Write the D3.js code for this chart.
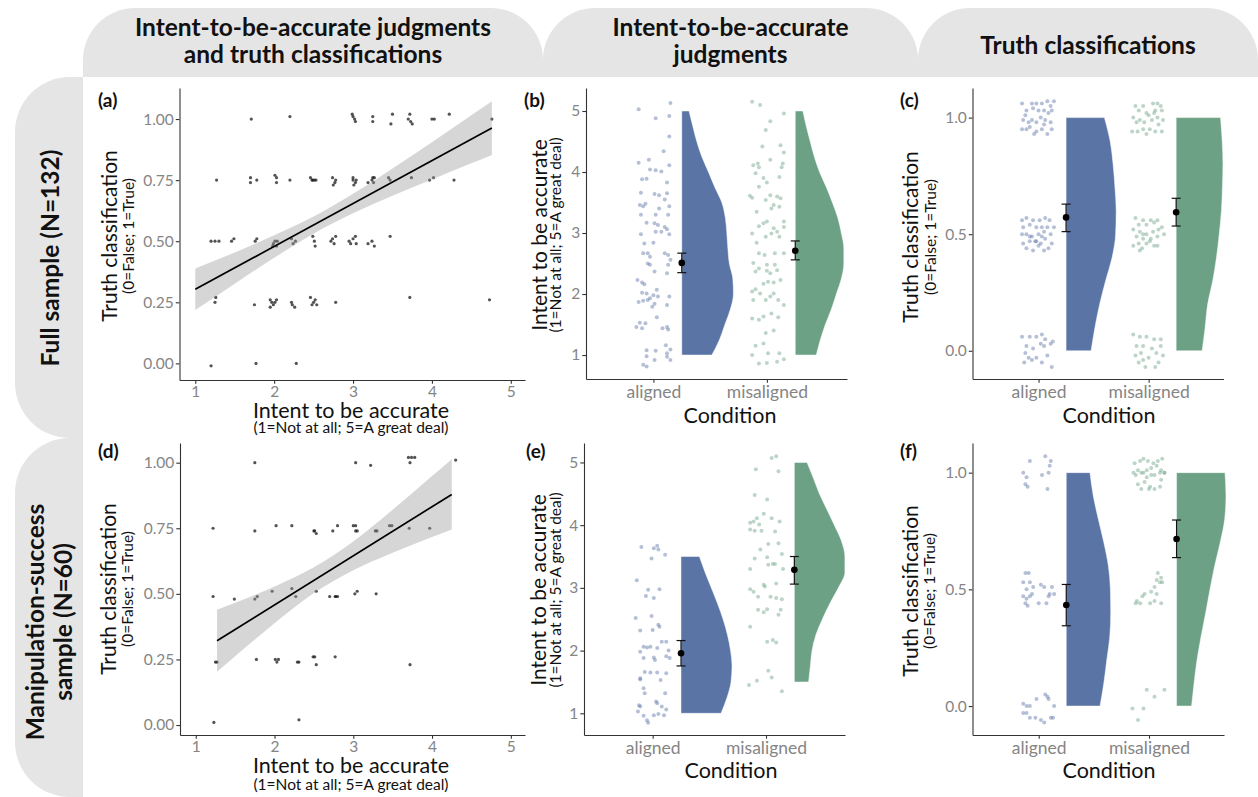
<!DOCTYPE html>
<html>
<head>
<meta charset="utf-8">
<script src="https://cdn.jsdelivr.net/npm/d3@7"></script>
<style>
  body { margin: 0; background: #fff; }
  svg { display: block; }
</style>
</head>
<body>
<svg id="fig" width="1258" height="797"></svg>
<script>
// ---------------- data ----------------
const conditions = ["aligned", "misaligned"];
const colTitles = [
  ["Intent-to-be-accurate judgments", "and truth classifications"],
  ["Intent-to-be-accurate", "judgments"],
  ["Truth classifications"]
];
const rowTitles = [
  ["Full sample (N=132)"],
  ["Manipulation-success", "sample (N=60)"]
];
const panelLabels = ["(a)", "(b)", "(c)", "(d)", "(e)", "(f)"];

const intentTicks = [1, 2, 3, 4, 5];
const truthTicks4 = [0, 0.25, 0.5, 0.75, 1];
const truthTicks2 = [0, 0.5, 1];

// (a) full sample: intent (x) vs truth classification (y), jittered
const aPoints = [
  [1.71,1.00],[2.20,1.01],[2.99,1.02],[3.00,1.01],[3.02,1.00],[3.03,0.99],[3.25,1.01],[3.25,0.99],
  [3.50,1.02],[3.48,0.98],[3.72,1.02],[3.70,1.00],[3.73,0.99],[3.75,0.98],[4.00,1.00],[4.03,1.00],
  [4.22,1.02],[4.76,1.00],
  [1.27,0.75],[1.70,0.76],[1.70,0.74],[1.78,0.75],[2.01,0.77],[2.03,0.76],[2.03,0.74],[2.20,0.75],
  [2.46,0.76],[2.48,0.75],[2.49,0.75],[2.51,0.75],[2.53,0.75],[2.74,0.76],[2.77,0.74],[2.78,0.75],
  [2.75,0.73],[3.00,0.76],[3.00,0.75],[3.03,0.74],[3.01,0.73],[3.04,0.75],[3.19,0.74],[3.24,0.75],
  [3.25,0.76],[3.27,0.76],[3.26,0.74],[3.45,0.76],[3.47,0.75],[3.74,0.76],[3.97,0.75],[4.02,0.76],
  [4.28,0.75],
  [1.20,0.50],[1.25,0.50],[1.30,0.50],[1.46,0.50],[1.49,0.51],[1.76,0.50],[1.78,0.51],[1.99,0.49],
  [2.01,0.50],[2.03,0.48],[2.04,0.50],[1.98,0.48],[2.22,0.51],[2.24,0.49],[2.27,0.50],[2.49,0.52],
  [2.51,0.50],[2.52,0.48],[2.72,0.50],[2.74,0.51],[2.76,0.49],[2.78,0.52],[2.95,0.50],[2.97,0.49],
  [3.00,0.51],[3.03,0.52],[3.04,0.49],[3.19,0.49],[3.24,0.50],[3.27,0.48],[3.47,0.52],
  [1.26,0.27],[1.25,0.25],[1.75,0.24],[1.95,0.26],[1.97,0.25],[1.99,0.24],[2.01,0.25],[2.03,0.26],
  [1.95,0.23],[2.22,0.25],[2.23,0.24],[2.26,0.23],[2.46,0.27],[2.48,0.24],[2.50,0.25],[2.52,0.26],
  [2.54,0.24],[2.78,0.25],[3.72,0.27],[4.73,0.26],
  [1.20,-0.01],[1.77,0.00],[2.28,0.00]
];
const aFitX = [1, 4.76];
const aFitY = [0.303, 0.963];
const aBandX  = [1, 1.5, 2, 2.5, 3, 3.5, 4, 4.5, 4.76];
const aBandLo = [0.218, 0.326, 0.432, 0.531, 0.614, 0.686, 0.753, 0.819, 0.853];
const aBandHi = [0.388, 0.454, 0.524, 0.601, 0.694, 0.798, 0.905, 1.015, 1.073];

// (d) manipulation-success sample
const dPoints = [
  [1.75,1.00],[3.03,1.00],[3.22,0.99],[3.70,1.02],[3.72,1.00],[3.74,1.02],[3.78,1.02],[4.30,1.01],
  [1.22,0.75],[1.75,0.74],[2.02,0.76],[2.22,0.76],[2.50,0.74],[2.53,0.73],[2.51,0.74],[2.74,0.74],
  [2.80,0.76],[3.00,0.76],[3.03,0.76],[3.03,0.74],[3.05,0.74],[3.28,0.74],[3.30,0.74],[3.46,0.76],
  [3.49,0.76],[3.71,0.75],[3.97,0.75],
  [1.22,0.49],[1.49,0.48],[1.75,0.48],[1.78,0.49],[1.97,0.51],[2.22,0.52],[2.27,0.49],[2.53,0.51],
  [2.70,0.49],[2.77,0.49],[2.78,0.49],[2.80,0.49],[3.02,0.50],[3.05,0.51],[3.29,0.50],
  [1.25,0.24],[1.27,0.24],[1.77,0.25],[2.01,0.25],[2.03,0.24],[2.05,0.25],[2.29,0.24],[2.31,0.24],
  [2.49,0.26],[2.51,0.26],[2.53,0.23],[2.77,0.26],[3.72,0.23],
  [1.23,0.01],[2.31,0.02]
];
const dFitX = [1.27, 4.25];
const dFitY = [0.321, 0.879];
const dBandX  = [1.27, 1.5, 2, 2.5, 3, 3.5, 4, 4.25];
const dBandLo = [0.203, 0.262, 0.388, 0.503, 0.590, 0.657, 0.717, 0.745];
const dBandHi = [0.439, 0.466, 0.528, 0.601, 0.700, 0.821, 0.949, 1.013];

// (b) intent by condition, full sample: [jitter offset, intent]
const bAligned = [
  [-0.13,5.03],[0.15,5.13],[0.02,4.88],[0.14,4.92],[0.14,4.58],[0.09,4.34],[-0.13,4.15],[-0.04,4.20],
  [0.14,4.11],[-0.03,4.04],[0.02,4.03],[0.07,4.01],[-0.10,3.88],[-0.06,3.89],[0.12,3.83],[-0.11,3.66],
  [0.01,3.64],[0.05,3.62],[0.12,3.65],[-0.12,3.46],[-0.09,3.44],[-0.07,3.48],[0.10,3.55],[0.14,3.44],
  [0.05,3.40],[0.02,3.30],[0.13,3.30],[-0.11,3.30],[-0.06,3.17],[0.01,3.16],[0.04,3.13],[0.10,3.10],
  [0.12,3.06],[0.02,3.02],[0.07,3.02],[-0.11,2.98],[0.14,2.98],[0.00,2.84],[-0.08,2.83],[-0.09,2.67],
  [-0.05,2.67],[-0.03,2.61],[0.10,2.67],[0.13,2.64],[0.15,2.56],[-0.05,2.50],[-0.03,2.48],[0.13,2.48],
  [0.01,2.37],[0.12,2.34],[-0.14,2.23],[-0.10,2.19],[-0.08,2.16],[-0.10,2.02],[-0.06,2.01],[0.03,2.07],
  [0.00,1.98],[-0.03,1.93],[-0.05,1.90],[-0.09,1.89],[-0.13,1.87],[0.04,1.96],[0.14,1.96],[0.01,1.84],
  [-0.01,1.79],[0.12,1.82],[0.03,1.62],[-0.12,1.53],[-0.07,1.52],[-0.10,1.44],[-0.15,1.46],[0.08,1.44],
  [0.12,1.46],[0.13,1.42],[-0.06,1.08],[0.02,1.07],[0.11,1.16],[0.15,1.09],[-0.06,0.98],[0.12,0.97],
  [0.15,0.92],[-0.09,0.84],[-0.06,0.81],[0.01,0.92],[0.12,1.03]
];
const bMisaligned = [
  [-0.13,5.15],[-0.06,5.10],[0.15,4.96],[0.03,4.83],[-0.01,4.69],[0.12,4.44],[-0.04,4.42],[0.15,4.32],
  [-0.08,4.14],[-0.12,4.11],[-0.07,4.08],[0.03,4.20],[0.14,4.14],[0.13,4.08],[-0.10,3.98],[-0.03,3.90],
  [0.00,3.83],[0.11,3.92],[-0.07,3.76],[-0.15,3.61],[-0.13,3.58],[0.03,3.62],[0.09,3.60],[0.12,3.57],
  [-0.01,3.54],[0.06,3.46],[0.11,3.43],[-0.09,3.35],[0.04,3.40],[0.15,3.19],[0.15,3.10],[-0.07,3.11],
  [-0.03,3.16],[0.00,3.19],[0.06,3.08],[0.09,3.02],[0.04,2.99],[-0.13,2.99],[-0.01,2.94],[0.11,2.94],
  [-0.09,2.84],[-0.07,2.67],[-0.02,2.64],[0.07,2.67],[0.15,2.67],[-0.12,2.51],[0.00,2.48],[0.07,2.48],
  [0.00,2.38],[0.09,2.39],[-0.07,2.42],[-0.10,2.37],[0.03,2.34],[0.12,2.23],[0.06,2.19],[-0.03,2.17],
  [0.01,2.20],[-0.10,2.08],[-0.13,2.04],[-0.06,2.01],[0.06,2.01],[0.03,1.96],[-0.01,1.90],[0.10,1.90],
  [-0.12,1.90],[0.15,1.82],[-0.13,1.60],[-0.07,1.58],[-0.03,1.63],[0.04,1.68],[0.10,1.62],[0.06,1.40],
  [-0.01,1.36],[-0.10,1.15],[-0.03,1.19],[0.01,1.03],[0.11,1.03],[-0.13,1.00],[-0.07,0.86],[0.00,0.87],
  [0.09,0.89],[0.15,0.93]
];
const bDensY = [1,1.25,1.5,1.75,2,2.25,2.5,2.75,3,3.25,3.5,3.75,4,4.25,4.5,4.75,5];
const bDensAligned    = [0.265,0.332,0.380,0.428,0.455,0.450,0.419,0.406,0.397,0.384,0.353,0.291,0.235,0.177,0.132,0.097,0.064];
const bDensMisaligned = [0.185,0.221,0.265,0.318,0.362,0.406,0.428,0.428,0.406,0.375,0.327,0.274,0.214,0.168,0.132,0.097,0.067];
const bMean = [2.51, 2.71];
const bLo   = [2.35, 2.56];
const bHi   = [2.67, 2.87];

// (c) truth classification by condition, full sample
const cAligned = [
  [-0.15,1.06],[-0.06,1.06],[-0.02,1.06],[0.03,1.06],[0.08,1.07],[0.11,1.05],[0.14,1.07],[-0.11,1.03],
  [-0.05,1.04],[0.00,1.03],[0.05,1.03],[0.09,1.02],[0.12,1.03],[-0.14,0.99],[-0.09,0.98],[-0.06,0.99],
  [-0.02,0.98],[0.02,1.00],[0.06,0.99],[0.11,0.98],[-0.15,0.95],[-0.11,0.95],[-0.08,0.96],[-0.02,0.94],
  [0.03,0.95],[0.08,0.93],[0.12,0.95],[-0.04,0.93],[-0.12,1.01],[0.05,0.97],
  [-0.15,0.56],[-0.11,0.57],[-0.05,0.56],[0.01,0.56],[0.06,0.57],[0.10,0.56],[-0.14,0.53],[-0.08,0.54],
  [-0.02,0.53],[0.03,0.53],[0.08,0.53],[0.14,0.53],[-0.15,0.50],[-0.11,0.50],[-0.06,0.49],[0.00,0.50],
  [0.05,0.51],[0.11,0.50],[-0.14,0.46],[-0.08,0.47],[-0.03,0.47],[0.02,0.46],[0.06,0.48],[0.12,0.46],
  [-0.11,0.44],[-0.05,0.43],[0.00,0.45],[0.05,0.43],[0.09,0.44],[-0.08,0.49],[0.03,0.49],[-0.02,0.47],
  [-0.15,0.06],[-0.08,0.06],[-0.02,0.06],[0.03,0.07],[0.06,0.05],[0.11,0.03],[0.13,0.04],[-0.11,0.02],
  [-0.05,0.01],[0.02,0.03],[0.05,0.02],[-0.12,-0.01],[-0.09,-0.03],[-0.02,-0.03],[0.03,-0.05],[0.08,-0.02],
  [0.12,-0.07],[-0.13,-0.05],[-0.06,-0.04]
];
const cMisaligned = [
  [-0.12,1.05],[-0.05,1.05],[0.04,1.06],[0.08,1.06],[0.11,1.05],[-0.09,1.03],[-0.02,1.02],[0.06,1.03],
  [0.12,1.03],[-0.14,1.00],[-0.08,0.99],[0.00,1.01],[0.08,1.00],[0.13,0.99],[-0.11,0.98],[-0.04,0.98],
  [0.03,0.99],[0.09,0.97],[-0.15,0.94],[-0.10,0.94],[-0.05,0.95],[0.01,0.95],[0.06,0.94],[0.12,0.94],
  [-0.02,0.93],[0.05,1.02],
  [-0.12,0.57],[-0.05,0.56],[0.02,0.56],[0.08,0.56],[-0.09,0.54],[-0.02,0.54],[0.05,0.55],[0.12,0.53],
  [-0.14,0.52],[-0.08,0.51],[-0.02,0.50],[0.04,0.51],[0.09,0.52],[-0.11,0.49],[-0.05,0.48],[0.02,0.48],
  [0.08,0.49],[0.14,0.50],[-0.09,0.46],[-0.02,0.46],[0.05,0.45],[-0.14,0.45],[-0.06,0.44],[0.01,0.47],
  [0.08,0.45],[-0.08,0.43],[-0.05,0.50],
  [-0.14,0.07],[-0.08,0.06],[-0.02,0.06],[0.05,0.05],[0.11,0.05],[-0.11,0.02],[-0.05,0.02],[0.03,0.01],
  [0.11,0.02],[-0.12,-0.02],[-0.07,-0.01],[0.00,-0.03],[0.07,-0.01],[0.13,-0.02],[-0.09,-0.05],[-0.03,-0.07],
  [0.06,-0.07],[0.09,-0.05],[-0.05,-0.04]
];
const cDensY = [0,0.1,0.2,0.3,0.4,0.5,0.6,0.7,0.8,0.9,1];
const cDensAligned    = [0.227,0.262,0.305,0.359,0.418,0.450,0.455,0.444,0.427,0.400,0.348];
const cDensMisaligned = [0.236,0.263,0.286,0.332,0.366,0.391,0.411,0.420,0.425,0.418,0.403];
const cMean = [0.572, 0.594];
const cLo   = [0.511, 0.535];
const cHi   = [0.629, 0.654];

// (e) intent by condition, manipulation-success sample
const eAligned = [
  [-0.10,3.65],[0.01,3.63],[0.04,3.67],[0.05,3.61],[-0.01,3.47],[0.11,3.53],[-0.14,3.12],[-0.04,2.97],
  [0.06,2.98],[-0.06,2.87],[0.01,2.84],[-0.15,2.52],[-0.11,2.32],[-0.01,2.55],[0.05,2.41],[0.06,2.38],
  [0.00,2.33],[-0.08,2.06],[-0.05,2.05],[-0.02,2.06],[0.04,2.04],[0.08,2.14],[0.12,2.14],[0.14,2.00],
  [-0.11,1.98],[0.12,1.91],[0.15,1.88],[-0.08,1.88],[0.01,1.89],[0.02,1.85],[-0.07,1.66],[-0.02,1.65],
  [0.04,1.65],[0.12,1.64],[-0.11,1.56],[-0.11,1.54],[0.07,1.53],[-0.08,1.40],[-0.07,1.32],[0.11,1.32],
  [0.03,1.19],[0.04,1.16],[0.08,1.11],[0.12,1.06],[-0.12,1.13],[-0.11,1.11],[-0.13,1.03],[-0.08,0.96],
  [-0.05,0.89],[-0.04,0.85],[0.01,0.97],[0.05,0.99],[0.10,0.97]
];
const eMisaligned = [
  [0.05,5.07],[0.09,5.10],[-0.09,4.89],[0.11,4.86],[-0.10,4.48],[0.01,4.41],[-0.02,4.18],[-0.08,4.11],
  [-0.14,4.04],[-0.11,4.06],[0.05,4.11],[0.12,4.06],[-0.06,4.01],[-0.14,3.93],[-0.10,3.91],[-0.04,3.91],
  [0.08,3.90],[0.02,3.70],[0.11,3.71],[-0.05,3.61],[0.14,3.54],[-0.10,3.47],[0.01,3.49],[0.06,3.38],
  [0.08,3.38],[-0.14,3.30],[0.02,3.37],[0.15,3.30],[-0.02,3.05],[-0.01,3.02],[-0.14,2.98],[-0.11,2.94],
  [0.09,3.07],[-0.07,2.86],[0.04,2.86],[0.09,2.84],[0.14,2.82],[-0.07,2.65],[0.01,2.66],[-0.02,2.61],
  [0.11,2.57],[0.13,2.65],[-0.14,2.38],[0.01,2.14],[0.06,2.17],[0.09,2.13],[0.02,1.68],[0.05,1.57],
  [-0.08,1.52],[-0.15,1.45],[0.14,1.35]
];
const eDensYAligned    = [1,1.25,1.5,1.75,2,2.25,2.5,2.75,3,3.25,3.5];
const eDensAligned     = [0.353,0.406,0.441,0.450,0.437,0.410,0.371,0.322,0.267,0.212,0.162];
const eDensYMisaligned = [1.5,1.75,2,2.25,2.5,2.75,3,3.25,3.5,3.75,4,4.25,4.5,4.75,5];
const eDensMisaligned  = [0.126,0.141,0.156,0.190,0.247,0.313,0.388,0.446,0.446,0.415,0.353,0.287,0.221,0.168,0.112];
const eMean = [1.957, 3.287];
const eLo   = [1.755, 3.06];
const eHi   = [2.16, 3.50];

// (f) truth classification by condition, manipulation-success sample
const fAligned = [
  [-0.08,1.05],[-0.14,1.00],[-0.11,0.98],[-0.12,0.95],[-0.10,0.94],[0.03,0.99],[0.09,1.00],[0.06,1.07],
  [0.11,1.05],[0.08,0.93],[0.10,1.03],
  [-0.12,0.57],[-0.09,0.57],[-0.14,0.53],[-0.08,0.53],[-0.05,0.51],[-0.11,0.50],[-0.06,0.48],[-0.14,0.47],
  [-0.11,0.46],[-0.08,0.47],[0.02,0.52],[0.05,0.51],[0.12,0.51],[0.14,0.48],[0.09,0.47],[0.07,0.44],
  [0.00,0.44],[-0.12,0.44],[-0.10,0.43],[0.10,0.48],
  [-0.14,0.01],[-0.11,0.00],[-0.08,0.00],[-0.02,0.03],[0.06,0.05],[0.09,0.03],[0.14,0.00],[-0.14,-0.03],
  [-0.11,-0.03],[-0.08,-0.05],[-0.03,-0.05],[0.02,-0.06],[0.05,-0.07],[0.11,-0.05],[0.13,-0.05],[0.08,0.04]
];
const fMisaligned = [
  [-0.13,1.04],[-0.08,1.05],[-0.05,1.06],[-0.01,1.05],[0.04,1.04],[0.08,1.05],[0.12,1.06],[-0.10,1.01],
  [-0.05,1.00],[-0.02,1.01],[0.02,1.02],[0.07,1.03],[0.11,1.01],[0.14,1.00],[-0.12,0.99],[-0.07,1.00],
  [-0.02,0.98],[0.02,0.99],[0.05,0.99],[0.10,1.00],[0.14,1.00],[-0.10,0.95],[-0.04,0.96],[0.01,0.94],
  [0.05,0.93],[0.10,0.94],[0.00,0.93],[-0.14,1.00],[-0.07,0.93],[0.11,0.97],
  [0.08,0.57],[0.11,0.55],[0.07,0.54],[0.10,0.53],[0.05,0.51],[0.12,0.53],[0.02,0.49],[0.07,0.48],
  [-0.04,0.48],[-0.06,0.47],[-0.11,0.45],[-0.08,0.44],[0.01,0.44],[0.05,0.45],[0.11,0.44],[-0.12,0.44],
  [-0.02,0.07],[0.05,0.04],[0.14,0.07],[-0.15,-0.01],[-0.05,-0.01],[-0.10,-0.06]
];
const fDensY = [0,0.1,0.2,0.3,0.4,0.5,0.6,0.7,0.8,0.9,1];
const fDensAligned    = [0.306,0.341,0.368,0.395,0.403,0.400,0.382,0.341,0.291,0.245,0.215];
const fDensMisaligned = [0.136,0.159,0.186,0.223,0.264,0.303,0.345,0.395,0.436,0.448,0.439];
const fMean = [0.433, 0.716];
const fLo   = [0.344, 0.636];
const fHi   = [0.521, 0.797];

// ---------------- style & layout ----------------
const FONT = "Lato, 'Open Sans', 'DejaVu Sans', sans-serif";
const STRIP_FILL = "#e5e5e5";
const TEXT_DARK = "#111";
const TICK_TEXT = "#858585";
const AXIS_COL = "#333";
const condColors = ["#5a74a6", "#6ca185"];
const CLOUD_OFFSET = 0.25;

const svg = d3.select("#fig");

// strip shapes: rounded on the outer side
function topRounded(x0, x1, y0, y1, r) {
  return `M${x0},${y1} L${x0},${y0 + r} A${r},${r} 0 0 1 ${x0 + r},${y0} L${x1 - r},${y0} A${r},${r} 0 0 1 ${x1},${y0 + r} L${x1},${y1} Z`;
}
function leftRounded(x0, x1, y0, y1, r) {
  return `M${x1},${y0} L${x0 + r},${y0} A${r},${r} 0 0 0 ${x0},${y0 + r} L${x0},${y1 - r} A${r},${r} 0 0 0 ${x0 + r},${y1} L${x1},${y1} Z`;
}

const colStripX = [[83, 543], [543, 918], [918, 1258]];
const colStripY = [8, 77];
colTitles.forEach((lines, i) => {
  const [x0, x1] = colStripX[i];
  svg.append("path").attr("d", topRounded(x0, x1, colStripY[0], colStripY[1], 52)).attr("fill", STRIP_FILL);
  const baselines = lines.length === 2 ? [36, 63] : [53.5];
  lines.forEach((t, j) => {
    svg.append("text").attr("x", (x0 + x1) / 2).attr("y", baselines[j])
      .attr("text-anchor", "middle").attr("font-family", FONT).attr("font-weight", 700)
      .attr("font-size", 24.5).attr("fill", TEXT_DARK).text(t);
  });
});

const rowStripY = [[77, 438], [438, 797]];
const rowStripX = [15, 83];
rowTitles.forEach((lines, i) => {
  const [y0, y1] = rowStripY[i];
  svg.append("path").attr("d", leftRounded(rowStripX[0], rowStripX[1], y0, y1, 55)).attr("fill", STRIP_FILL);
  const baselines = lines.length === 2 ? [44, 72] : [59];
  const cy = i === 0 ? 258 : 622;
  lines.forEach((t, j) => {
    svg.append("text").attr("transform", `translate(${baselines[j]},${cy}) rotate(-90)`)
      .attr("text-anchor", "middle").attr("font-family", FONT).attr("font-weight", 700)
      .attr("font-size", 24.5).attr("fill", TEXT_DARK).text(t);
  });
});

// axis helpers
function styleAxis(g, size) {
  g.attr("font-family", null).attr("font-size", null);
  g.select(".domain").attr("stroke", AXIS_COL).attr("stroke-width", 1.1);
  g.selectAll(".tick line").attr("stroke", AXIS_COL).attr("stroke-width", 1.1);
  g.selectAll(".tick text").attr("fill", TICK_TEXT).attr("font-family", FONT).attr("font-size", size);
}

function drawTitles(p) {
  // y title (two lines, rotated)
  svg.append("text").attr("transform", `translate(${p.yTitleX[0]},${p.yTitleCY}) rotate(-90)`)
    .attr("text-anchor", "middle").attr("font-family", FONT).attr("font-size", 21)
    .attr("fill", TEXT_DARK).text(p.yTitle[0]);
  svg.append("text").attr("transform", `translate(${p.yTitleX[1]},${p.yTitleCY}) rotate(-90)`)
    .attr("text-anchor", "middle").attr("font-family", FONT).attr("font-size", 15.5)
    .attr("fill", TEXT_DARK).text(p.yTitle[1]);
  // x title
  svg.append("text").attr("x", p.xTitleCX).attr("y", p.xTitleY[0])
    .attr("text-anchor", "middle").attr("font-family", FONT).attr("font-size", 21.5)
    .attr("fill", TEXT_DARK).text(p.xTitle[0]);
  if (p.xTitle[1]) {
    svg.append("text").attr("x", p.xTitleCX).attr("y", p.xTitleY[1])
      .attr("text-anchor", "middle").attr("font-family", FONT).attr("font-size", 15.5)
      .attr("fill", TEXT_DARK).text(p.xTitle[1]);
  }
  // panel tag
  svg.append("text").attr("x", p.tag[0]).attr("y", p.tag[1])
    .attr("font-family", FONT).attr("font-weight", 700).attr("font-size", 19)
    .attr("fill", TEXT_DARK).text(p.label);
}

function scatterPanel(p) {
  const f = p.frame;
  const x = d3.scaleLinear().domain(p.xDomain).range([f.x0, f.x1]);
  const y = d3.scaleLinear().domain(p.yDomain).range([f.y1, f.y0]);
  const g = svg.append("g");

  g.selectAll("circle").data(p.points).join("circle")
    .attr("cx", d => x(d[0])).attr("cy", d => y(d[1])).attr("r", 1.6)
    .attr("fill", "#1a1a1a").attr("fill-opacity", 0.75);

  const band = p.bandX.map((v, i) => ({ x: v, lo: p.bandLo[i], hi: p.bandHi[i] }));
  g.append("path").datum(band)
    .attr("d", d3.area().x(d => x(d.x)).y0(d => y(d.lo)).y1(d => y(d.hi)).curve(d3.curveMonotoneX))
    .attr("fill", "#999").attr("fill-opacity", 0.4);

  const fit = p.fitX.map((v, i) => ({ x: v, y: p.fitY[i] }));
  g.append("path").datum(fit)
    .attr("d", d3.line().x(d => x(d.x)).y(d => y(d.y)))
    .attr("stroke", "#000").attr("stroke-width", 1.7).attr("fill", "none");

  const ax = svg.append("g").attr("transform", `translate(0,${f.y1})`)
    .call(d3.axisBottom(x).tickValues(intentTicks).tickFormat(d3.format("d")).tickSize(3.7).tickSizeOuter(0).tickPadding(2.5));
  styleAxis(ax, 15.5);
  const ay = svg.append("g").attr("transform", `translate(${f.x0},0)`)
    .call(d3.axisLeft(y).tickValues(truthTicks4).tickFormat(d3.format(".2f")).tickSize(3.7).tickSizeOuter(0).tickPadding(2));
  styleAxis(ay, 15.5);
  drawTitles(p);
}

function rainPanel(p) {
  const f = p.frame;
  const x = d3.scaleLinear().domain(p.xDomain).range([f.x0, f.x1]);
  const y = d3.scaleLinear().domain(p.yDomain).range([f.y1, f.y0]);
  const g = svg.append("g");

  conditions.forEach((c, i) => {
    const k = i + 1;
    const col = condColors[i];
    // raw responses, jittered around the category
    g.append("g").selectAll("circle").data(p.points[i]).join("circle")
      .attr("cx", d => x(k + d[0])).attr("cy", d => y(d[1])).attr("r", 2)
      .attr("fill", col).attr("fill-opacity", 0.45);
    // half-violin density
    const dens = p.densY[i].map((v, j) => ({ y: v, w: p.dens[i][j] }));
    g.append("path").datum(dens)
      .attr("d", d3.area().y(d => y(d.y)).x0(x(k + CLOUD_OFFSET)).x1(d => x(k + CLOUD_OFFSET + d.w)).curve(d3.curveMonotoneY))
      .attr("fill", col).attr("stroke", "#fff").attr("stroke-opacity", 0.6).attr("stroke-width", 0.8);
    // mean with error bar
    const mx = x(k + CLOUD_OFFSET);
    g.append("line").attr("x1", mx).attr("x2", mx).attr("y1", y(p.lo[i])).attr("y2", y(p.hi[i]))
      .attr("stroke", "#111").attr("stroke-width", 1.2);
    [p.lo[i], p.hi[i]].forEach(v => {
      g.append("line").attr("x1", mx - 4.5).attr("x2", mx + 4.5).attr("y1", y(v)).attr("y2", y(v))
        .attr("stroke", "#111").attr("stroke-width", 1.2);
    });
    g.append("circle").attr("cx", mx).attr("cy", y(p.mean[i])).attr("r", 3.3).attr("fill", "#000");
  });

  const ax = svg.append("g").attr("transform", `translate(0,${f.y1})`)
    .call(d3.axisBottom(x).tickValues([1, 2]).tickFormat(d => conditions[d - 1]).tickSize(3.7).tickSizeOuter(0).tickPadding(2.5));
  styleAxis(ax, 17.5);
  const ay = svg.append("g").attr("transform", `translate(${f.x0},0)`)
    .call(d3.axisLeft(y).tickValues(p.yTicks).tickFormat(p.yFormat).tickSize(3.7).tickSizeOuter(0).tickPadding(2));
  styleAxis(ay, 15.5);
  drawTitles(p);
}

const intentTitle = ["Intent to be accurate", "(1=Not at all; 5=A great deal)"];
const truthTitle = ["Truth classification", "(0=False; 1=True)"];

scatterPanel({
  label: panelLabels[0], tag: [98, 107],
  frame: { x0: 179.5, x1: 525, y0: 88, y1: 380 },
  xDomain: [0.8, 5.18], yDomain: [-0.068, 1.127],
  points: aPoints, fitX: aFitX, fitY: aFitY, bandX: aBandX, bandLo: aBandLo, bandHi: aBandHi,
  yTitle: truthTitle, yTitleX: [116.5, 133.5], yTitleCY: 236,
  xTitle: intentTitle, xTitleCX: 351, xTitleY: [417.5, 433]
});
scatterPanel({
  label: panelLabels[3], tag: [98, 458],
  frame: { x0: 180, x1: 525, y0: 443, y1: 735 },
  xDomain: [0.8, 5.18], yDomain: [-0.038, 1.075],
  points: dPoints, fitX: dFitX, fitY: dFitY, bandX: dBandX, bandLo: dBandLo, bandHi: dBandHi,
  yTitle: truthTitle, yTitleX: [116, 133], yTitleCY: 589,
  xTitle: intentTitle, xTitleCX: 351, xTitleY: [773, 790]
});
rainPanel({
  label: panelLabels[1], tag: [524, 107],
  frame: { x0: 586, x1: 847, y0: 88, y1: 379 },
  xDomain: [0.406, 2.706], yDomain: [0.607, 5.377],
  points: [bAligned, bMisaligned], densY: [bDensY, bDensY], dens: [bDensAligned, bDensMisaligned],
  mean: bMean, lo: bLo, hi: bHi, yTicks: intentTicks, yFormat: d3.format("d"),
  yTitle: intentTitle, yTitleX: [547, 561], yTitleCY: 235,
  xTitle: ["Condition"], xTitleCX: 730, xTitleY: [422.5]
});
rainPanel({
  label: panelLabels[2], tag: [900, 107],
  frame: { x0: 972.5, x1: 1223.5, y0: 88, y1: 379 },
  xDomain: [0.4, 2.68], yDomain: [-0.121, 1.127],
  points: [cAligned, cMisaligned], densY: [cDensY, cDensY], dens: [cDensAligned, cDensMisaligned],
  mean: cMean, lo: cLo, hi: cHi, yTicks: truthTicks2, yFormat: d3.format(".1f"),
  yTitle: truthTitle, yTitleX: [918, 935.5], yTitleCY: 237,
  xTitle: ["Condition"], xTitleCX: 1109, xTitleY: [423]
});
rainPanel({
  label: panelLabels[4], tag: [526, 458],
  frame: { x0: 584, x1: 845, y0: 443, y1: 735 },
  xDomain: [0.394, 2.697], yDomain: [0.654, 5.31],
  points: [eAligned, eMisaligned], densY: [eDensYAligned, eDensYMisaligned], dens: [eDensAligned, eDensMisaligned],
  mean: eMean, lo: eLo, hi: eHi, yTicks: intentTicks, yFormat: d3.format("d"),
  yTitle: intentTitle, yTitleX: [545.5, 561], yTitleCY: 590,
  xTitle: ["Condition"], xTitleCX: 731, xTitleY: [778]
});
rainPanel({
  label: panelLabels[5], tag: [900, 458],
  frame: { x0: 972.5, x1: 1224, y0: 443, y1: 735 },
  xDomain: [0.4, 2.68], yDomain: [-0.124, 1.127],
  points: [fAligned, fMisaligned], densY: [fDensY, fDensY], dens: [fDensAligned, fDensMisaligned],
  mean: fMean, lo: fLo, hi: fHi, yTicks: truthTicks2, yFormat: d3.format(".1f"),
  yTitle: truthTitle, yTitleX: [917.5, 934.5], yTitleCY: 591,
  xTitle: ["Condition"], xTitleCX: 1109, xTitleY: [778]
});
</script>
</body>
</html>
